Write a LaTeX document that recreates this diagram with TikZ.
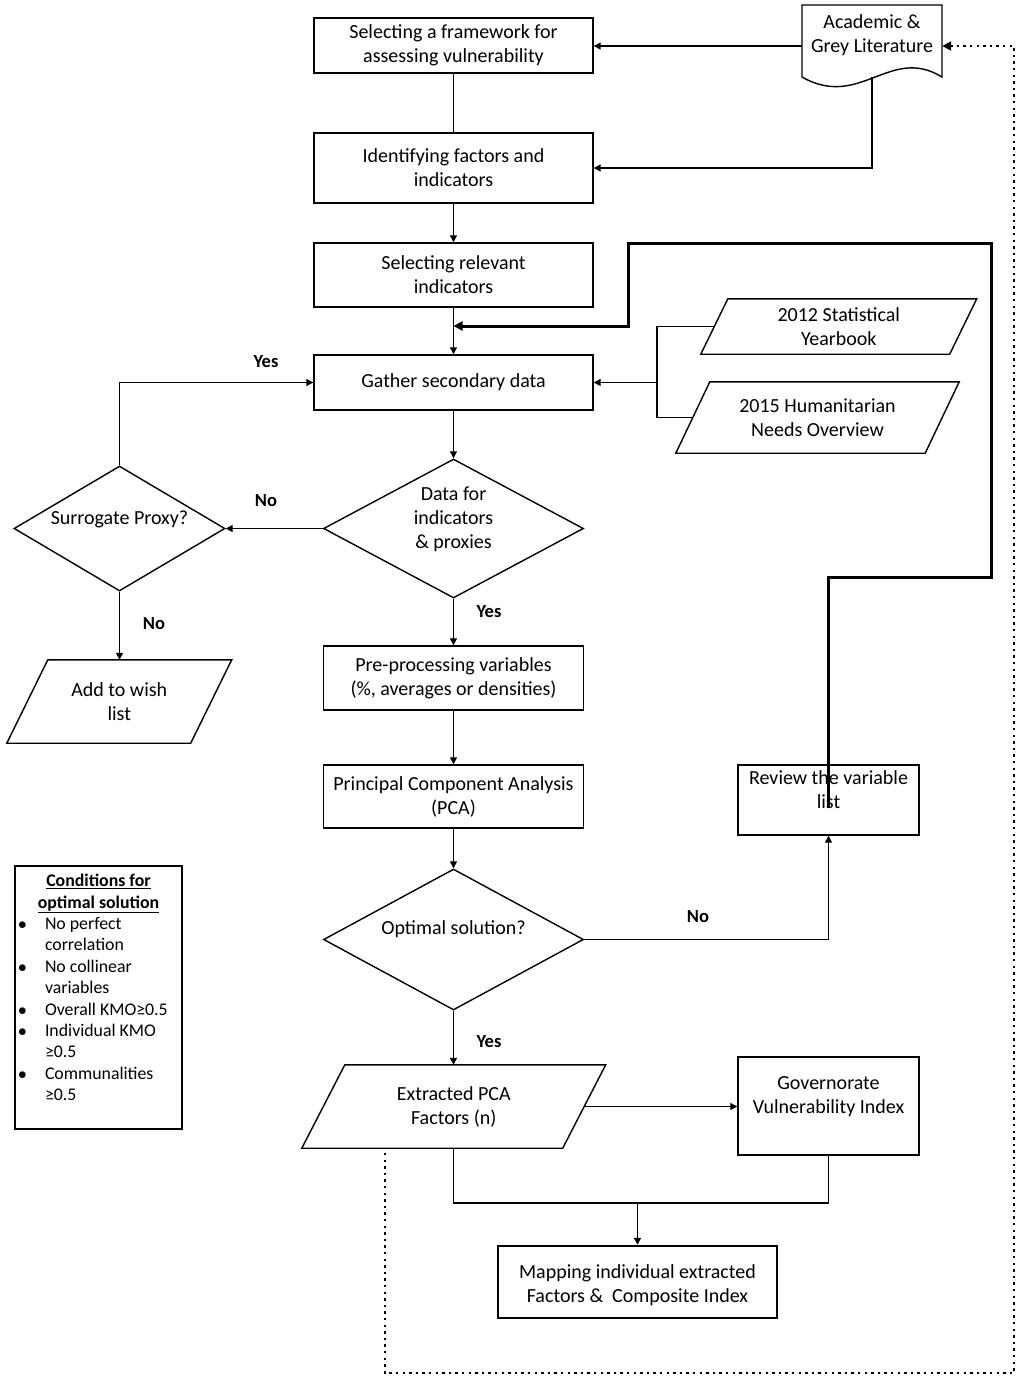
\documentclass[tikz,border=0pt]{standalone}
\usepackage{fontspec}
\setmainfont{Carlito}
\usetikzlibrary{shapes.geometric,arrows.meta,calc}
\newcommand{\parashape}[2]{\draw[line width=1.4pt] ([xshift=#2]#1.north west) -- ([xshift=#2]#1.north east) -- ([xshift=-#2]#1.south east) -- ([xshift=-#2]#1.south west) -- cycle;}
\begin{document}
\begin{tikzpicture}[x=1pt,y=-1pt,
  every node/.style={font=\fontsize{20}{24}\selectfont},
  box/.style={draw, line width=1.4pt, align=center, inner sep=0pt},
  dia/.style={draw, diamond, line width=1.4pt, align=center, inner sep=0pt},
  para/.style={align=center, inner sep=0pt},
  lab/.style={font=\fontsize{18.5}{22}\selectfont\bfseries},
  conn/.style={line width=1.3pt},
  arr/.style={conn, -{Triangle[length=7pt,width=7pt]}},
]
\useasboundingbox (0,0) rectangle (1024,1382);

% main column
\node[box, minimum width=279, minimum height=55] (frame) at (453.5,45.5) {Selecting a framework for\\assessing vulnerability};
\node[box, minimum width=279, minimum height=70] (ident) at (453.5,168) {Identifying factors and\\indicators};
\node[box, minimum width=279, minimum height=64] (rel) at (453.5,275) {Selecting relevant\\indicators};
\node[box, minimum width=279, minimum height=55] (gather) at (453.5,382.5) {Gather secondary data};
\node[dia, minimum width=260, minimum height=139] (data) at (453.5,528.5) {};
\node[align=center] (datat) at (453.5,519) {Data for\\indicators\\\& proxies};
\node[box, minimum width=260, minimum height=64] (pre) at (453.5,678) {Pre-processing variables\\(\%, averages or densities)};
\node[box, minimum width=260, minimum height=63] (pca) at (453.5,796.5) {Principal Component Analysis\\(PCA)};
\node[dia, minimum width=260, minimum height=141] (opt) at (453.5,939.5) {};
\node (optt) at (453.5,929) {Optimal solution?};
\node[para, minimum width=260.5, minimum height=83] (extr) at (453.75,1106.5) {Extracted PCA\\Factors (n)};
\parashape{extr}{21.5}

% academic document
\node[minimum width=140, minimum height=82, inner sep=0pt] (acad) at (872,46) {};
\draw[line width=1.4pt] (802,77) -- (802,5) -- (942,5) -- (942,77) .. controls (890,45) and (860,110) .. (802,77);
\node[align=center] (acadt) at (872,35) {Academic \&\\Grey Literature};
\coordinate (acadb) at (872,77);

% data sources
\node[para, minimum width=248.5, minimum height=55] (y12) at (838.75,326.5) {2012 Statistical\\Yearbook};
\parashape{y12}{13.5}
\node[para, minimum width=249, minimum height=71] (y15) at (817.5,417.5) {2015 Humanitarian\\Needs Overview};
\parashape{y15}{17}
\coordinate (fork) at (657,382.5);

% left branch
\node[dia, minimum width=211, minimum height=125] (surr) at (119.5,528.5) {};
\node (surrt) at (119.5,519) {Surrogate Proxy?};
\node[para, minimum width=183.5, minimum height=83] (wish) at (119.25,701.5) {Add to wish\\list};
\parashape{wish}{20.5}

% right side
\node[box, minimum width=181, minimum height=70] (review) at (828.5,800) {};
\node[align=center] (reviewt) at (828.5,790) {Review the variable\\list};
\node[box, minimum width=181, minimum height=98] (gov) at (828.5,1106) {};
\node[align=center] (govt) at (828.5,1096.5) {Governorate\\Vulnerability Index};
\node[box, line width=2.5pt, minimum width=279, minimum height=72] (map) at (637.5,1282) {};
\node[align=center] (mapt) at (637.5,1285) {Mapping individual extracted\\Factors \&\ \ Composite Index};

% conditions box
\node[draw, line width=1.4pt, minimum width=167, minimum height=263, inner sep=0pt] (cond) at (98.5,997.5) {};
\node[anchor=north, inner sep=0pt, font=\fontsize{17.8}{21.4}\selectfont] (condt) at (98.5,871.5) {%
\begin{tabular}{@{}p{30pt}@{}p{137pt}@{}}
\multicolumn{2}{@{}c@{}}{\bfseries\underline{Conditions for}}\\
\multicolumn{2}{@{}c@{}}{\bfseries\underline{optimal solution}}\\
\hspace{3pt}$\bullet$ & No perfect\\
 & correlation\\
\hspace{3pt}$\bullet$ & No collinear\\
 & variables\\
\hspace{3pt}$\bullet$ & Overall KMO≥0.5\\
\hspace{3pt}$\bullet$ & Individual KMO\\
 & ≥0.5\\
\hspace{3pt}$\bullet$ & Communalities\\
 & ≥0.5
\end{tabular}};

% connectors
\draw[arr] (acad.west) -- (acad.west -| frame.east);
\draw[arr] (acadb) |- (ident.east);
\draw[conn] (frame) -- (ident);
\draw[arr] (ident) -- (rel);
\draw[arr] (rel) -- (gather);
\coordinate (join) at (453.5,326);
\coordinate (loopstart) at (828.5,808);
\draw[line width=3pt, -{Triangle[length=9pt,width=9pt]}] (loopstart) -- (828.5,577) -- (991,577) -- (991,243) -- (628,243) -- (628,326) -- (join);
\draw[conn] (y12.west) -| (fork);
\draw[conn] (y15.west) -| (fork);
\draw[arr] (fork) -- (gather.east);
\draw[arr] (gather) -- (data);
\draw[arr] (data.west) -- (surr.east);
\draw[arr] (surr.north) |- (gather.west);
\draw[arr] (surr.south) -- (surr.south |- wish.north);
\draw[arr] (data.south) -- (pre.north);
\draw[arr] (pre) -- (pca);
\draw[arr] (pca) -- (opt);
\draw[arr] (opt.east) -| (review.south);
\draw[arr] (opt.south) -- (opt.south |- extr.north);
\draw[arr] (extr.east) -- (extr.east -| gov.west);
\coordinate (merge) at (637.5,1203);
\draw[conn] (extr.south) |- (merge);
\draw[conn] (gov.south) |- (merge);
\draw[arr] (merge) -- (map.north);
\coordinate (dstart) at (385,1153);
\draw[line width=2.6pt, dash pattern=on 2.4pt off 4.2pt, -{Triangle[length=9pt,width=9pt]}] (dstart) -- (385,1373) -- (1014,1373) -- (1014,46) -- (acad.east);

% labels
\node[lab] (l1) at (266,362) {Yes};
\node[lab] (l2) at (266,501) {No};
\node[lab] (l3) at (154,624) {No};
\node[lab] (l4) at (489,612) {Yes};
\node[lab] (l5) at (698,917) {No};
\node[lab] (l6) at (489,1042) {Yes};
\end{tikzpicture}
\end{document}
